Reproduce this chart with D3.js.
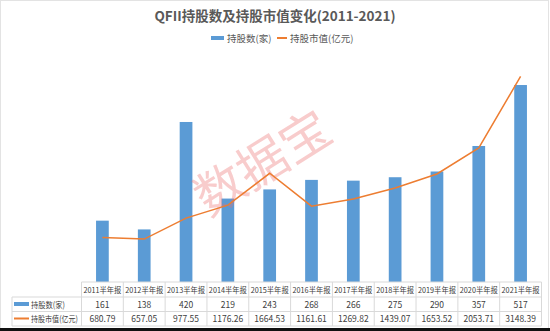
<!DOCTYPE html>
<html><head><meta charset="utf-8">
<script src="https://cdn.jsdelivr.net/npm/d3@7"></script>
<style>html,body{margin:0;padding:0;background:#fff}svg{display:block}</style>
</head><body>
<svg id="c" width="550" height="331"></svg>
<script>
const categories = ["2011半年报","2012半年报","2013半年报","2014半年报","2015半年报","2016半年报","2017半年报","2018半年报","2019半年报","2020半年报","2021半年报"];
const holdings = [161,138,420,219,243,268,266,275,290,357,517];
const marketValue = [680.79,657.05,977.55,1176.26,1664.53,1161.61,1269.82,1439.07,1653.52,2053.71,3148.39];
const seriesNames = ["持股数(家)","持股市值(亿元)"];
const title = "QFII持股数及持股市值变化(2011-2021)";

const svg = d3.select("#c");
const font = "'Noto Sans CJK SC','Noto Sans',sans-serif";
const blue = "#5B9BD5", orange = "#ED7D31", grid = "#d9d9d9", txt = "#404040";

// frame
svg.append("rect").attr("x",0.5).attr("y",0.5).attr("width",548).attr("height",328)
  .attr("fill","#fff").attr("stroke","#e3e3e3");

const plotTop = 53.4, plotBottom = 282;
const x = d3.scaleBand().domain(categories).range([81.5,541.5]).paddingInner(0.696).paddingOuter(0.348);
const yBar = d3.scaleLinear().domain([0,600]).range([plotBottom,plotTop]);
const yLine = d3.scaleLinear().domain([0,3500]).range([plotBottom,plotTop]);
const step = x.step();
const left0 = x.range()[0];

// title
svg.append("text").attr("x",275).attr("y",21).attr("text-anchor","middle")
  .attr("font-family",font).attr("font-weight","bold").attr("font-size",13.5).attr("fill","#595959").text(title);

// legend
const lg = svg.append("g").attr("font-family",font).attr("font-size",9.5).attr("fill","#595959");
lg.append("rect").attr("x",211).attr("y",36).attr("width",13).attr("height",4).attr("fill",blue);
lg.append("text").attr("x",227).attr("y",41.5).text(seriesNames[0]);
lg.append("line").attr("x1",277).attr("x2",287).attr("y1",38).attr("y2",38).attr("stroke",orange).attr("stroke-width",2);
lg.append("text").attr("x",290).attr("y",41.5).text(seriesNames[1]);

// bars
svg.append("g").selectAll("rect").data(holdings).join("rect")
  .attr("x",(d,i)=>x(categories[i])).attr("width",x.bandwidth())
  .attr("y",d=>yBar(d)).attr("height",d=>yBar(0)-yBar(d)).attr("fill",blue);

// watermark
svg.append("text").attr("transform","translate(272,178) rotate(-32)")
  .attr("text-anchor","middle").attr("font-family",font).attr("font-size",50)
  .attr("fill","rgba(235,110,110,0.35)").text("数据宝");

// line
const line = d3.line().x((d,i)=>x(categories[i])+x.bandwidth()/2).y(d=>yLine(d));
svg.append("path").datum(marketValue).attr("d",line).attr("fill","none")
  .attr("stroke",orange).attr("stroke-width",1.5);

// table
const t = svg.append("g").attr("stroke",grid).attr("stroke-width",1);
const rowY = [282,297,311.5,326];
const right = x.range()[1];
t.append("line").attr("x1",left0).attr("x2",right).attr("y1",rowY[0]).attr("y2",rowY[0]);
for (let r=1;r<4;r++) t.append("line").attr("x1",12).attr("x2",right).attr("y1",rowY[r]).attr("y2",rowY[r]);
t.append("line").attr("x1",12).attr("x2",12).attr("y1",rowY[1]).attr("y2",rowY[3]);
for (let i=0;i<=categories.length;i++) {
  const xx = left0 + i*step;
  t.append("line").attr("x1",xx).attr("x2",xx).attr("y1",rowY[0]).attr("y2",rowY[3]);
}
const tt = svg.append("g").attr("font-family",font).attr("font-size",8.5).attr("fill",txt).attr("text-anchor","middle");
categories.forEach((c,i)=>{
  const cx = x(c)+x.bandwidth()/2;
  tt.append("text").attr("x",cx).attr("y",293).attr("font-size",8)
    .attr("textLength",38).attr("lengthAdjust","spacingAndGlyphs").text(c);
  tt.append("text").attr("x",cx).attr("y",307.5).text(holdings[i]);
  tt.append("text").attr("x",cx).attr("y",322).text(marketValue[i].toFixed(2));
});
const rh = svg.append("g").attr("font-family",font).attr("font-size",8.5).attr("fill",txt);
rh.append("rect").attr("x",14).attr("y",302).attr("width",15).attr("height",4).attr("fill",blue);
rh.append("text").attr("x",31).attr("y",307.5).attr("textLength",34).attr("lengthAdjust","spacingAndGlyphs").text(seriesNames[0]);
rh.append("line").attr("x1",14).attr("x2",29).attr("y1",318.5).attr("y2",318.5).attr("stroke",orange).attr("stroke-width",2);
rh.append("text").attr("x",31).attr("y",322).attr("textLength",47).attr("lengthAdjust","spacingAndGlyphs").text(seriesNames[1]);

// bottom dark strip
svg.append("rect").attr("x",0).attr("y",328).attr("width",550).attr("height",3).attr("fill","#111");
</script>
</body></html>
